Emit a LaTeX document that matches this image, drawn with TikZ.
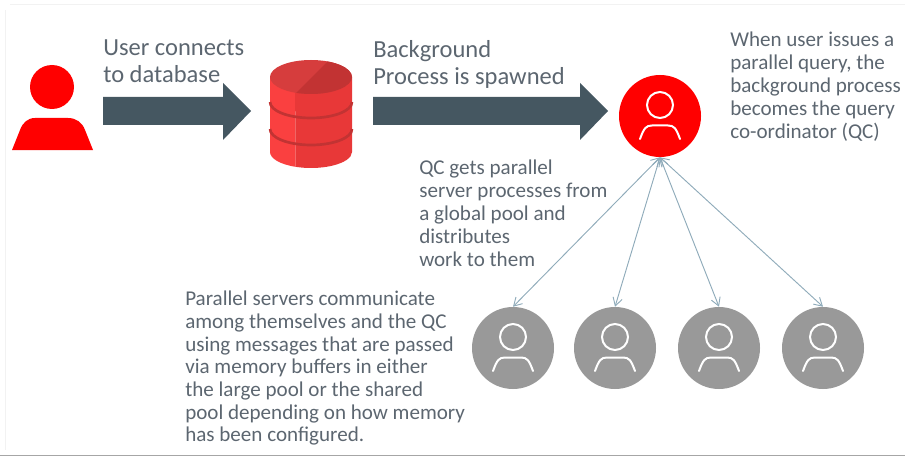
\documentclass[tikz,border=0pt]{standalone}
\usepackage{fontspec}
\setmainfont{Carlito}
\usetikzlibrary{arrows.meta,positioning,shapes}

\definecolor{textcolor}{rgb}{0.36,0.40,0.44}
\definecolor{arrowcolor}{rgb}{0.27,0.34,0.38}
\definecolor{linkcolor}{rgb}{0.56,0.67,0.73}
\definecolor{servercolor}{rgb}{0.60,0.60,0.60}
\definecolor{dbleft}{rgb}{0.98,0.25,0.25}
\definecolor{dbright}{rgb}{0.91,0.22,0.22}
\definecolor{dbtop}{rgb}{0.84,0.24,0.24}
\definecolor{dbdark}{rgb}{0.76,0.20,0.20}

\tikzset{
  bigtext/.style={anchor=north west, inner sep=0, align=left, text=textcolor, font=\fontsize{18.4}{20.4}\selectfont},
  smalltext/.style={anchor=north west, inner sep=0, align=left, text=textcolor, font=\fontsize{15.8}{17.25}\selectfont},
  notetext/.style={smalltext, font=\fontsize{15.8}{17}\selectfont},
  procnode/.style={circle, inner sep=0, minimum size=61.5pt},
  bigarrow/.style={fill=arrowcolor},
  usericon/.pic={
    \draw[white, line width=1.5pt] (0,-11) circle (13);
    \draw[white, line width=1.5pt, line cap=round] (-20,23) .. controls (-16,12) and (-14,9.5) .. (-8,9.5) -- (8,9.5) .. controls (14,9.5) and (16,12) .. (20,23);
  }
}

\begin{document}
\begin{tikzpicture}[x=.75pt,y=-.75pt]
  \useasboundingbox (0,0) rectangle (905,456);

  % frame
  \draw[black!5] (10,4) -- (905,4);
  \draw[black!5] (5,10) -- (5,450);
  \draw[black!35] (0,455.5) -- (905,455.5);

  %% user
  \node[circle, fill=red, inner sep=0, minimum size=33pt] (userhead) at (52,87) {};
  \fill[red] (12,150) -- (20,130) to[out=70,in=180] (35,118) -- (68,118) to[out=0,in=110] (85,130) -- (93,150) -- cycle;

  \node[bigtext] (connects) at (103,39) {User connects\\to database};
  \fill[bigarrow] (103,97) -- (223,97) -- (223,83) -- (251,111) -- (223,140) -- (223,125) -- (103,125) -- cycle;

  %% database
  \fill[dbleft] (270,77) -- (270,152) arc[start angle=180, end angle=112, x radius=41, y radius=16] -- (295,77) -- cycle;
  \fill[dbright] (352,77) -- (352,152) arc[start angle=0, end angle=112, x radius=41, y radius=16] -- (295,77) -- cycle;
  \fill[dbtop] (311,77) ellipse[x radius=41, y radius=17];
  \begin{scope}
    \clip (311,77) ellipse[x radius=41, y radius=17];
    \fill[dbdark] (295,94) -- (329,60) -- (355,60) -- (355,94) -- cycle;
  \end{scope}
  \draw[dbdark, line width=2pt] (270,102) arc[start angle=180, end angle=0, x radius=41, y radius=16];
  \draw[dbdark, line width=2pt] (270,129) arc[start angle=180, end angle=0, x radius=41, y radius=16];

  \node[bigtext] (spawned) at (373,40) {Background\\Process is spawned};
  \fill[bigarrow] (373,97) -- (580,97) -- (580,83) -- (608,111) -- (580,140) -- (580,125) -- (373,125) -- cycle;

  %% query co-ordinator
  \node[procnode, fill=red] (qc) at (660,116) {};
  \pic at (qc.center) {usericon};
  \node[smalltext] (issues) at (730,32) {When user issues a\\parallel query, the\\background process\\becomes the query\\co-ordinator (QC)};
  \node[smalltext] (gets) at (419,160) {QC gets parallel\\server processes from\\a global pool and\\distributes\\work to them};

  %% parallel servers
  \foreach \i/\x in {1/513,2/615,3/719,4/823} {
    \node[procnode, fill=servercolor] (srv\i) at (\x,348) {};
    \pic at (srv\i.center) {usericon};
    \draw[{Straight Barb[length=6pt,width=7pt]}-{Straight Barb[length=6pt,width=7pt]}, linkcolor, line width=.7pt] (qc.south) -- (srv\i.north);
  }
  \node[notetext] (communicate) at (185,291) {Parallel servers communicate\\among themselves and the QC\\using messages that are passed\\via memory buffers in either\\the large pool or the shared\\pool depending on how memory\\has been configured.};
\end{tikzpicture}
\end{document}
